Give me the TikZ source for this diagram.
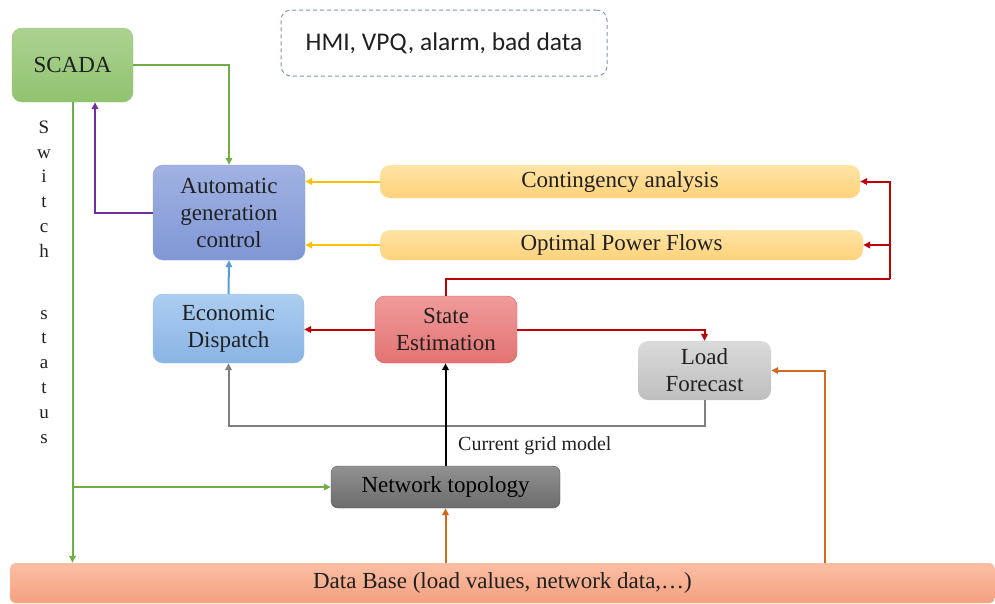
\documentclass[tikz,border=0pt]{standalone}
\usepackage{fontspec}
\setmainfont{Liberation Serif}
\newfontfamily\calib{Carlito}
\usetikzlibrary{arrows.meta,calc}
\definecolor{txt}{HTML}{202020}
\definecolor{cgreen}{HTML}{70AD47}
\definecolor{cpurple}{HTML}{7030A0}
\definecolor{cyell}{HTML}{FFC000}
\definecolor{cblue}{HTML}{5B9BD5}
\definecolor{cred}{HTML}{C00000}
\definecolor{cgray}{HTML}{7F7F7F}
\definecolor{corange}{HTML}{D2691E}
\definecolor{hmiborder}{HTML}{8497B0}
\tikzset{
  box/.style={rounded corners=10pt, align=center, text=txt, font=\fontsize{23}{27}\selectfont, inner sep=0pt},
  conn/.style={line width=2pt, -{Triangle[length=7pt,width=6.5pt]}},
  plain/.style={line width=2pt},
}
\begin{document}
\begin{tikzpicture}[x=1pt,y=-1pt]
\useasboundingbox (0,0) rectangle (995,603);
% nodes
\node[box, minimum width=121pt, minimum height=74pt, top color={rgb,255:red,172;green,210;blue,145}, bottom color={rgb,255:red,145;green,195;blue,112}, draw={rgb,255:red,150;green,198;blue,120}] (scada) at (72.5,65) {SCADA};
\node[box, minimum width=326pt, minimum height=66pt, draw=hmiborder, dashed, line width=1pt, dash pattern=on 4pt off 3pt, font=\calib\fontsize{25.5}{28}\selectfont] (hmi) at (444,43) {HMI, VPQ, alarm, bad data};
\node[box, minimum width=152pt, minimum height=95pt, top color={rgb,255:red,160;green,178;blue,226}, bottom color={rgb,255:red,128;green,151;blue,213}, draw={rgb,255:red,140;green,160;blue,215}] (agc) at (229,212.5) {Automatic\\generation\\control};
\node[box, minimum width=480pt, minimum height=33pt, top color={rgb,255:red,255;green,228;blue,165}, bottom color={rgb,255:red,255;green,210;blue,122}] (ca) at (620,181.5) {Contingency analysis};
\node[box, minimum width=483pt, minimum height=30pt, top color={rgb,255:red,255;green,228;blue,165}, bottom color={rgb,255:red,255;green,210;blue,122}] (opf) at (621.5,245) {Optimal Power Flows};
\node[box, minimum width=151pt, minimum height=69pt, top color={rgb,255:red,172;green,205;blue,240}, bottom color={rgb,255:red,138;green,180;blue,228}, draw={rgb,255:red,150;green,190;blue,232}] (ed) at (228.5,328.5) {Economic\\Dispatch};
\node[box, minimum width=142pt, minimum height=67pt, top color={rgb,255:red,240;green,155;blue,155}, bottom color={rgb,255:red,228;green,115;blue,115}, draw={rgb,255:red,210;green,100;blue,100}] (se) at (446,329.5) {State\\Estimation};
\node[box, minimum width=133pt, minimum height=59pt, top color={rgb,255:red,218;green,218;blue,218}, bottom color={rgb,255:red,190;green,190;blue,190}] (lf) at (704.5,370.5) {Load\\Forecast};
\node[box, minimum width=229pt, minimum height=42pt, rounded corners=7pt, top color={rgb,255:red,145;green,145;blue,145}, bottom color={rgb,255:red,108;green,108;blue,108}, draw={rgb,255:red,85;green,85;blue,85}, text=black] (nt) at (445.5,487) {Network topology};
\node[box, minimum width=985pt, minimum height=40pt, rounded corners=6pt, top color={rgb,255:red,250;green,190;blue,165}, bottom color={rgb,255:red,244;green,160;blue,126}] (db) at (502.5,583) {Data Base (load values, network data,\dots)};
\node[align=center, text=txt, font=\fontsize{19}{24.8}\selectfont, inner sep=0pt] (sw) at (44,282) {S\\w\\i\\t\\c\\h\\[37pt]s\\t\\a\\t\\u\\s};
\node[text=txt, font=\fontsize{20}{22}\selectfont, anchor=west, inner sep=0pt] (cgm) at (458,446) {Current grid model};
% coordinates
\coordinate (r1) at (890,279);
\coordinate (g1) at (0,426);
\coordinate (d2) at (825,0);
\coordinate (pu) at ($(scada.south)+(22.5,0)$);
% connectors
\draw[conn, cgreen] (scada.east) -| (agc.north);
\draw[conn, cpurple] (agc.west) -| (pu);
\draw[conn, cyell] (ca.west) -- (ca.west -| agc.east);
\draw[conn, cyell] (opf.west) -- (opf.west -| agc.east);
\draw[conn, cblue] (ed.north) -- (agc.south);
\draw[plain, cred] (se.north) -- (se.north |- r1) -- (r1);
\draw[conn, cred] (r1) |- (ca.east);
\draw[conn, cred] (r1 |- opf.east) -- (opf.east);
\draw[conn, cred] (se.west) -- (se.west -| ed.east);
\draw[conn, cred] (se.east) -| (lf.north);
\draw[conn, cgray] (lf.south) |- (ed.south |- g1) -- (ed.south);
\draw[conn, black] (nt.north) -- (nt.north |- se.south);
\draw[conn, cgreen] (scada.south) -- (scada.south |- db.north);
\draw[conn, cgreen] (scada.south |- nt.west) -- (nt.west);
\draw[conn, corange] (db.north -| nt.south) -- (nt.south);
\draw[conn, corange] (db.north -| d2) |- (lf.east);
\end{tikzpicture}
\end{document}
